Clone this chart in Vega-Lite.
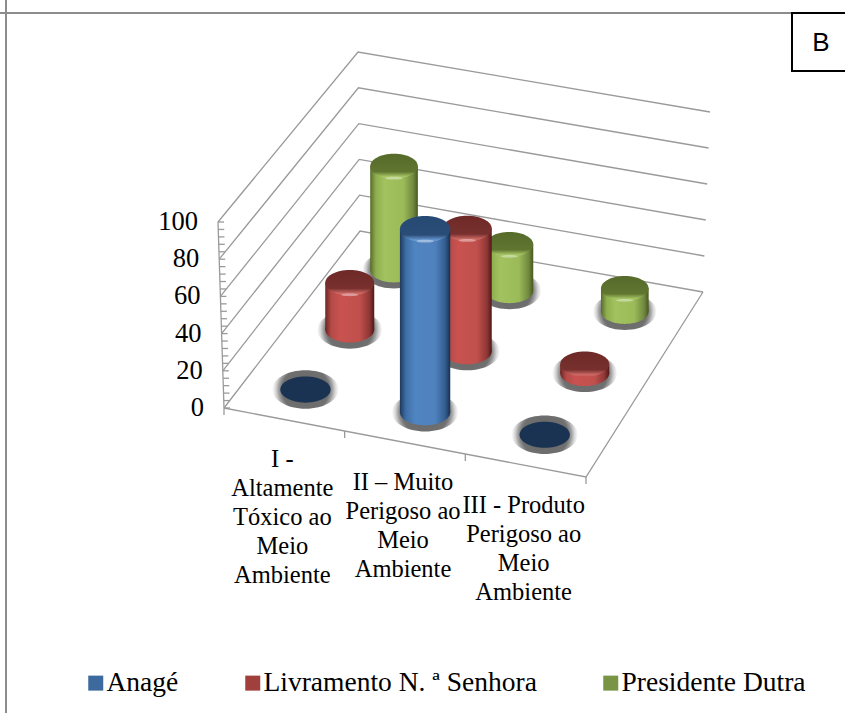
{"$schema":"https://vega.github.io/schema/vega-lite/v6.json","width":845,"height":713,"padding":0,"autosize":{"type":"none"},"background":"white","config":{"axis":{"disable":true},"view":{"stroke":null}},
"datasets":{"rows":[
{"category":"I","series":"Presidente Dutra","value":58},{"category":"II","series":"Presidente Dutra","value":26},{"category":"III","series":"Presidente Dutra","value":13},
{"category":"I","series":"Livramento N. ª Senhora","value":26},{"category":"II","series":"Livramento N. ª Senhora","value":68},{"category":"III","series":"Livramento N. ª Senhora","value":5},
{"category":"I","series":"Anagé","value":0},{"category":"II","series":"Anagé","value":100},{"category":"III","series":"Anagé","value":0}],
"frame":[
{"line":"g0","corner":"FL","value":0,"seq":0},{"line":"g0","corner":"BL","value":0,"seq":1},{"line":"g0","corner":"BR","value":0,"seq":2},
{"line":"g20","corner":"FL","value":20,"seq":0},{"line":"g20","corner":"BL","value":20,"seq":1},{"line":"g20","corner":"BR","value":20,"seq":2},
{"line":"g40","corner":"FL","value":40,"seq":0},{"line":"g40","corner":"BL","value":40,"seq":1},{"line":"g40","corner":"BR","value":40,"seq":2},
{"line":"g60","corner":"FL","value":60,"seq":0},{"line":"g60","corner":"BL","value":60,"seq":1},{"line":"g60","corner":"BR","value":60,"seq":2},
{"line":"g80","corner":"FL","value":80,"seq":0},{"line":"g80","corner":"BL","value":80,"seq":1},{"line":"g80","corner":"BR","value":80,"seq":2},
{"line":"g100","corner":"FL","value":100,"seq":0},{"line":"g100","corner":"BL","value":100,"seq":1},{"line":"g100","corner":"BR","value":100,"seq":2},
{"line":"floor","corner":"FL","value":0,"seq":0},{"line":"floor","corner":"FR","value":0,"seq":1},{"line":"floor","corner":"BR","value":0,"seq":2},
{"line":"axis","corner":"FL","value":0,"seq":0},{"line":"axis","corner":"FL","value":100,"seq":1}],
"ticks":[{"value":0},{"value":4},{"value":8},{"value":12},{"value":16},{"value":20},{"value":24},{"value":28},{"value":32},{"value":36},{"value":40},{"value":44},{"value":48},{"value":52},{"value":56},{"value":60},{"value":64},{"value":68},{"value":72},{"value":76},{"value":80},{"value":84},{"value":88},{"value":92},{"value":96},{"value":100}],
"catticks":[{"k":0},{"k":1},{"k":2},{"k":3}],
"labels":[{"k":0,"label":"I -\nAltamente\nTóxico ao\nMeio\nAmbiente"},{"k":1,"label":"II – Muito\nPerigoso ao\nMeio\nAmbiente"},{"k":2,"label":"III - Produto\nPerigoso ao\nMeio\nAmbiente"}],
"ylabels":[{"value":0},{"value":20},{"value":40},{"value":60},{"value":80},{"value":100}]},
"layer":[
{"data":{"values":[{"side":"left"}]},"mark":{"type":"rule","stroke":"#8c8c8c","strokeWidth":2},"encoding":{"x":{"datum":6,"type":"quantitative","scale":{"domain":[0,845],"nice":false,"zero":false}}}},
{"data":{"values":[{"side":"top"}]},"mark":{"type":"rule","stroke":"#8c8c8c","strokeWidth":2},"encoding":{"y":{"datum":13,"type":"quantitative","scale":{"domain":[713,0],"nice":false,"zero":false}}}},
{"data":{"name":"frame"},"transform":[
{"calculate":"datum.corner=='FL'?224-0.06*datum.value:datum.corner=='BL'?360-0.02*datum.value:datum.corner=='BR'?703+0.07*datum.value:586","as":"px"},
{"calculate":"datum.corner=='FL'?408-1.86*datum.value:datum.corner=='BL'?231-1.79*datum.value:datum.corner=='BR'?292-1.8*datum.value:477","as":"py"}],
"mark":{"type":"line","stroke":"#9a9a9a","strokeWidth":1.3},"encoding":{"x":{"field":"px","type":"quantitative"},"y":{"field":"py","type":"quantitative"},"detail":{"field":"line"},"order":{"field":"seq"}}},
{"data":{"name":"ticks"},"transform":[{"calculate":"224-0.06*datum.value","as":"px"},{"calculate":"datum.px+6","as":"px2"},{"calculate":"408-1.86*datum.value","as":"py"}],
"mark":{"type":"rule","stroke":"#9a9a9a","strokeWidth":1.3},"encoding":{"x":{"field":"px","type":"quantitative"},"x2":{"field":"px2"},"y":{"field":"py","type":"quantitative"}}},
{"data":{"name":"catticks"},"transform":[{"calculate":"224+362*datum.k/3","as":"px"},{"calculate":"408+69*datum.k/3","as":"py"},{"calculate":"datum.py+7","as":"py2"}],
"mark":{"type":"rule","stroke":"#9a9a9a","strokeWidth":1.3},"encoding":{"x":{"field":"px","type":"quantitative"},"y":{"field":"py","type":"quantitative"},"y2":{"field":"py2"}}},
{"data":{"name":"ylabels"},"transform":[{"calculate":"224-0.06*datum.value","as":"px"},{"calculate":"408-1.86*datum.value","as":"py"}],
"mark":{"type":"text","align":"right","baseline":"middle","dx":-20,"font":"Liberation Serif","fontSize":26.5,"fill":"#000"},"encoding":{"x":{"field":"px","type":"quantitative"},"y":{"field":"py","type":"quantitative"},"text":{"field":"value"}}},
{"data":{"name":"labels"},"transform":[{"calculate":"222+362*(datum.k+0.5)/3","as":"px"},{"calculate":"408+69*(datum.k+0.5)/3+28","as":"py"}],
"mark":{"type":"text","align":"center","baseline":"top","lineBreak":"\n","lineHeight":29,"font":"Liberation Serif","fontSize":24.5,"fill":"#000"},"encoding":{"x":{"field":"px","type":"quantitative"},"y":{"field":"py","type":"quantitative"},"text":{"field":"label"}}},
{"data":{"name":"rows"},"transform":[
{"calculate":"(indexof(['I','II','III'],datum.category)+0.5)/3","as":"u"},
{"calculate":"(indexof(['Anagé','Livramento N. ª Senhora','Presidente Dutra'],datum.series)+0.5)/3","as":"v"},
{"calculate":"223+362*datum.u","as":"fx"},{"calculate":"408+69*datum.u","as":"fy"},{"calculate":"359+343*datum.u","as":"bx"},{"calculate":"230+61*datum.u","as":"by"},
{"calculate":"datum.fx+(datum.bx-datum.fx)*datum.v","as":"px"},
{"calculate":"datum.fy+(datum.by-datum.fy)*datum.v","as":"base"},
{"calculate":"datum.base-datum.value*(1.84-0.06*datum.v)","as":"ptop"},
{"calculate":"25.5-2*datum.v","as":"r"},
{"calculate":"datum.px-datum.r","as":"xl"},{"calculate":"datum.px+datum.r","as":"xr"},
{"calculate":"pow(2*datum.r,2)","as":"sz"},{"calculate":"pow(2*datum.r+16,2)","as":"sz1"}],
"layer":[
{"mark":{"type":"point","filled":true,"size":0,"opacity":0},"encoding":{"x":{"field":"px","type":"quantitative"},"y":{"field":"base","type":"quantitative"},"fill":{"field":"series","type":"nominal","scale":{"domain":["Anagé","Livramento N. ª Senhora","Presidente Dutra"],"range":["#3d6a9e","#a03f3c","#7a9446"]},
"legend":{"orient":"none","legendX":82,"legendY":669,"direction":"horizontal","columns":3,"title":null,"padding":0,"symbolType":"square","symbolSize":225,"symbolOpacity":1,"symbolStrokeWidth":0,"labelFont":"Liberation Serif","labelFontSize":27.5,"labelColor":"#000","labelOffset":-3,"columnPadding":60,"labelLimit":400}}}},
{"mark":{"type":"point","filled":true,"opacity":1,"fill":{"gradient":"radial","x1":0.5,"y1":0.5,"r1":0,"x2":0.5,"y2":0.5,"r2":0.5,"stops":[{"offset":0,"color":"#666"},{"offset":0.7,"color":"#707070"},{"offset":0.8,"color":"#9c9c9c"},{"offset":0.9,"color":"#d8d8d8"},{"offset":1,"color":"#ffffff"}]},"shape":"M-1,0A1,0.58,0,1,1,1,0A1,0.58,0,1,1,-1,0Z"},"encoding":{"x":{"field":"px","type":"quantitative"},"y":{"field":"base","type":"quantitative"},"size":{"field":"sz1","type":"quantitative","scale":null}}},
{"transform":[{"filter":"datum.series=='Presidente Dutra' && datum.value>0"}],"layer":[
{"mark":{"type":"point","filled":true,"opacity":1,"fill":{"x1":0,"y1":0,"x2":1,"y2":0,"gradient":"linear","stops":[{"offset":0,"color":"#566d2c"},{"offset":0.12,"color":"#8fae4f"},{"offset":0.3,"color":"#a2c25f"},{"offset":0.7,"color":"#9bbb59"},{"offset":0.9,"color":"#71893f"},{"offset":1,"color":"#47591f"}]},"shape":"M-1,0A1,0.52,0,1,1,1,0A1,0.52,0,1,1,-1,0Z"},"encoding":{"x":{"field":"px","type":"quantitative"},"y":{"field":"base","type":"quantitative"},"size":{"field":"sz","type":"quantitative","scale":null}}},
{"mark":{"type":"rect","fill":{"x1":0,"y1":0,"x2":1,"y2":0,"gradient":"linear","stops":[{"offset":0,"color":"#566d2c"},{"offset":0.12,"color":"#8fae4f"},{"offset":0.3,"color":"#a2c25f"},{"offset":0.7,"color":"#9bbb59"},{"offset":0.9,"color":"#71893f"},{"offset":1,"color":"#47591f"}]}},"encoding":{"x":{"field":"xl","type":"quantitative"},"x2":{"field":"xr"},"y":{"field":"ptop","type":"quantitative"},"y2":{"field":"base"}}},
{"mark":{"type":"point","filled":true,"opacity":1,"fill":{"x1":0,"y1":0,"x2":0,"y2":1,"gradient":"linear","stops":[{"offset":0,"color":"#566b2a"},{"offset":0.72,"color":"#5f7530"},{"offset":0.92,"color":"#a7c765"},{"offset":1,"color":"#9bbb59"}]},"shape":"M-1,0A1,0.52,0,1,1,1,0A1,0.52,0,1,1,-1,0Z"},"encoding":{"x":{"field":"px","type":"quantitative"},"y":{"field":"ptop","type":"quantitative"},"size":{"field":"sz","type":"quantitative","scale":null}}}]},
{"transform":[{"filter":"datum.series=='Livramento N. ª Senhora' && datum.value>0"}],"layer":[
{"mark":{"type":"point","filled":true,"opacity":1,"fill":{"x1":0,"y1":0,"x2":1,"y2":0,"gradient":"linear","stops":[{"offset":0,"color":"#6b2523"},{"offset":0.12,"color":"#b34a47"},{"offset":0.3,"color":"#c9524f"},{"offset":0.7,"color":"#c0504d"},{"offset":0.9,"color":"#8f3735"},{"offset":1,"color":"#4f1a18"}]},"shape":"M-1,0A1,0.52,0,1,1,1,0A1,0.52,0,1,1,-1,0Z"},"encoding":{"x":{"field":"px","type":"quantitative"},"y":{"field":"base","type":"quantitative"},"size":{"field":"sz","type":"quantitative","scale":null}}},
{"mark":{"type":"rect","fill":{"x1":0,"y1":0,"x2":1,"y2":0,"gradient":"linear","stops":[{"offset":0,"color":"#6b2523"},{"offset":0.12,"color":"#b34a47"},{"offset":0.3,"color":"#c9524f"},{"offset":0.7,"color":"#c0504d"},{"offset":0.9,"color":"#8f3735"},{"offset":1,"color":"#4f1a18"}]}},"encoding":{"x":{"field":"xl","type":"quantitative"},"x2":{"field":"xr"},"y":{"field":"ptop","type":"quantitative"},"y2":{"field":"base"}}},
{"mark":{"type":"point","filled":true,"opacity":1,"fill":{"x1":0,"y1":0,"x2":0,"y2":1,"gradient":"linear","stops":[{"offset":0,"color":"#6e2a28"},{"offset":0.72,"color":"#77302e"},{"offset":0.92,"color":"#cf6a67"},{"offset":1,"color":"#c0504d"}]},"shape":"M-1,0A1,0.52,0,1,1,1,0A1,0.52,0,1,1,-1,0Z"},"encoding":{"x":{"field":"px","type":"quantitative"},"y":{"field":"ptop","type":"quantitative"},"size":{"field":"sz","type":"quantitative","scale":null}}}]},
{"transform":[{"filter":"datum.series=='Anagé' && datum.value>0"}],"layer":[
{"mark":{"type":"point","filled":true,"opacity":1,"fill":{"x1":0,"y1":0,"x2":1,"y2":0,"gradient":"linear","stops":[{"offset":0,"color":"#1f3a5c"},{"offset":0.12,"color":"#3e6ea6"},{"offset":0.3,"color":"#5085c2"},{"offset":0.7,"color":"#4f81bd"},{"offset":0.9,"color":"#335d90"},{"offset":1,"color":"#17304f"}]},"shape":"M-1,0A1,0.52,0,1,1,1,0A1,0.52,0,1,1,-1,0Z"},"encoding":{"x":{"field":"px","type":"quantitative"},"y":{"field":"base","type":"quantitative"},"size":{"field":"sz","type":"quantitative","scale":null}}},
{"mark":{"type":"rect","fill":{"x1":0,"y1":0,"x2":1,"y2":0,"gradient":"linear","stops":[{"offset":0,"color":"#1f3a5c"},{"offset":0.12,"color":"#3e6ea6"},{"offset":0.3,"color":"#5085c2"},{"offset":0.7,"color":"#4f81bd"},{"offset":0.9,"color":"#335d90"},{"offset":1,"color":"#17304f"}]}},"encoding":{"x":{"field":"xl","type":"quantitative"},"x2":{"field":"xr"},"y":{"field":"ptop","type":"quantitative"},"y2":{"field":"base"}}},
{"mark":{"type":"point","filled":true,"opacity":1,"fill":{"x1":0,"y1":0,"x2":0,"y2":1,"gradient":"linear","stops":[{"offset":0,"color":"#264a73"},{"offset":0.72,"color":"#2a4d78"},{"offset":0.92,"color":"#6a9bd3"},{"offset":1,"color":"#4f81bd"}]},"shape":"M-1,0A1,0.52,0,1,1,1,0A1,0.52,0,1,1,-1,0Z"},"encoding":{"x":{"field":"px","type":"quantitative"},"y":{"field":"ptop","type":"quantitative"},"size":{"field":"sz","type":"quantitative","scale":null}}}]},
{"transform":[{"filter":"datum.value>8"}],"mark":{"type":"point","filled":true,"fill":"#ffffff","opacity":0.4,"size":300,"yOffset":12,"shape":"M-1,0A1,0.16,0,1,1,1,0A1,0.16,0,1,1,-1,0Z"},"encoding":{"x":{"field":"px","type":"quantitative"},"y":{"field":"ptop","type":"quantitative"}}},
{"transform":[{"filter":"datum.value==0"}],"mark":{"type":"point","filled":true,"opacity":1,"fill":"#1b3352","shape":"M-1,0A1,0.52,0,1,1,1,0A1,0.52,0,1,1,-1,0Z"},"encoding":{"x":{"field":"px","type":"quantitative"},"y":{"field":"ptop","type":"quantitative"},"size":{"field":"sz","type":"quantitative","scale":null}}}]},
{"data":{"values":[{"label":"B"}]},"layer":[
{"mark":{"type":"rect","fill":"white","stroke":"#000","strokeWidth":2},"encoding":{"x":{"datum":792,"type":"quantitative"},"x2":{"datum":850},"y":{"datum":13,"type":"quantitative"},"y2":{"datum":71}}},
{"mark":{"type":"text","font":"Liberation Sans","fontSize":26,"align":"center","baseline":"middle","fill":"#000"},"encoding":{"x":{"datum":821,"type":"quantitative"},"y":{"datum":43,"type":"quantitative"},"text":{"field":"label"}}}]}
]}
